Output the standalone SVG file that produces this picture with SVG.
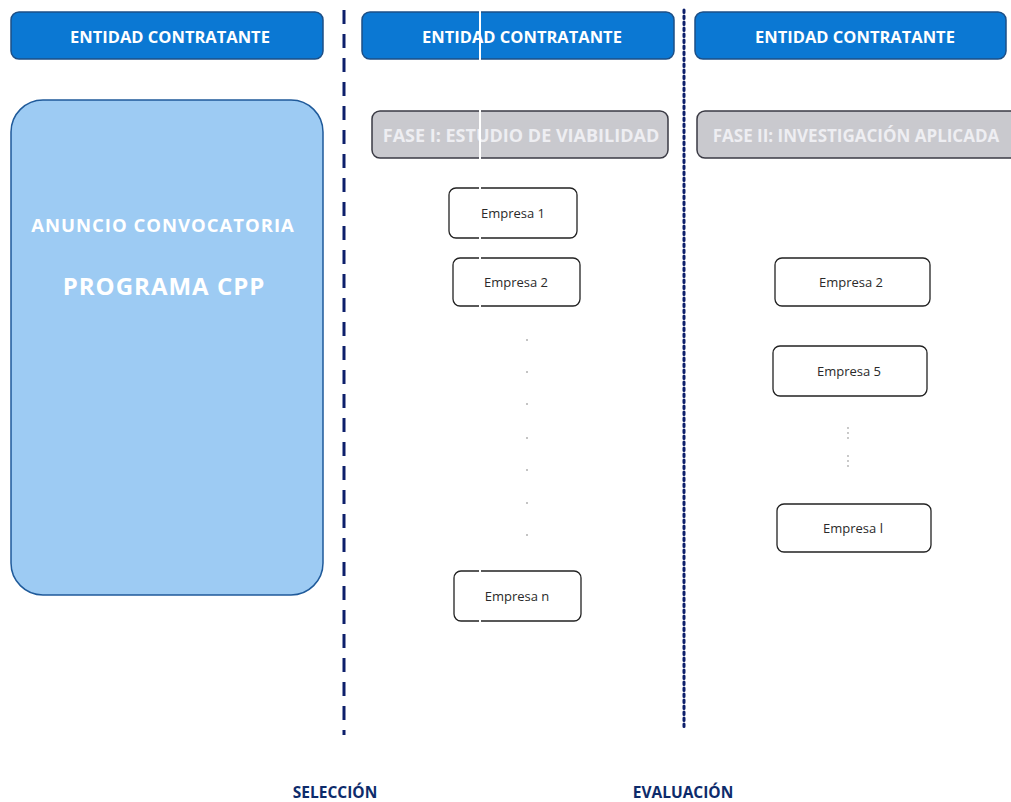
<svg xmlns="http://www.w3.org/2000/svg" width="1011" height="802" viewBox="0 0 1011 802">
<style>
.hdr{fill:#0b78d3;stroke:#1d4f86;stroke-width:1.5}
.hdrt{font-family:"Open Sans","Liberation Sans",sans-serif;font-weight:bold;font-size:16.5px;fill:#ffffff;text-anchor:middle}
.fase{fill:#c9c9ce;stroke:#3a3a44;stroke-width:1.5}
.faset{font-family:"Open Sans","Liberation Sans",sans-serif;font-weight:bold;fill:#eeeef2;text-anchor:middle}
.emp{fill:#ffffff;stroke:#222222;stroke-width:1.3}
.empt{font-family:"Open Sans","Liberation Sans",sans-serif;font-size:13px;fill:#2a2a2a;text-anchor:middle}
.lbl{font-family:"Open Sans","Liberation Sans",sans-serif;font-weight:bold;font-size:15.5px;fill:#0d2b6b;text-anchor:middle}
.an{font-family:"Open Sans","Liberation Sans",sans-serif;font-weight:bold;fill:#ffffff;text-anchor:middle}
.dot{fill:#b0b0b0}
</style>
<rect width="1011" height="802" fill="#ffffff"/>
<g id="connectors">
<line x1="344" y1="10" x2="344" y2="735" stroke="#0d1f6b" stroke-width="3" stroke-dasharray="14,10"/>
<line x1="684" y1="10" x2="684" y2="730" stroke="#0d1f6b" stroke-width="3" stroke-dasharray="2.5,3.5" stroke-linecap="round"/>
</g>
<g id="header1"><rect class="hdr" x="11" y="12" width="312" height="47" rx="8"/><text class="hdrt" x="170" y="43">ENTIDAD CONTRATANTE</text></g>
<g id="header2"><rect class="hdr" x="362" y="12" width="312" height="47" rx="8"/><text class="hdrt" x="522" y="43">ENTIDAD CONTRATANTE</text></g>
<g id="header3"><rect class="hdr" x="695" y="12" width="311" height="47" rx="8"/><text class="hdrt" x="855" y="43">ENTIDAD CONTRATANTE</text></g>
<g id="anuncio">
<rect x="11" y="100" width="312" height="495" rx="32" fill="#9dcbf3" stroke="#1f5a9a" stroke-width="1.5"/>
<text class="an" x="163" y="232" font-size="18.5px" letter-spacing="1">ANUNCIO CONVOCATORIA</text>
<text class="an" x="164" y="295" font-size="24px" letter-spacing="1">PROGRAMA CPP</text>
</g>
<g id="fase1"><rect class="fase" x="372" y="111" width="296" height="47" rx="8"/><text class="faset" x="521" y="142" font-size="18px">FASE I: ESTUDIO DE VIABILIDAD</text></g>
<g id="fase2"><rect class="fase" x="697" y="111" width="330" height="47" rx="8"/><text class="faset" x="856" y="142" font-size="17px">FASE II: INVESTIGACIÓN APLICADA</text></g>
<g id="empresa1"><rect class="emp" x="449" y="188" width="128" height="50" rx="7"/><text class="empt" x="513" y="218">Empresa 1</text></g>
<g id="empresa2a"><rect class="emp" x="453" y="258" width="127" height="48" rx="7"/><text class="empt" x="516" y="287">Empresa 2</text></g>
<g id="empresan"><rect class="emp" x="454" y="571" width="127" height="50" rx="7"/><text class="empt" x="517" y="601">Empresa n</text></g>
<g id="dots1">
<circle class="dot" cx="527" cy="340" r="1"/><circle class="dot" cx="527" cy="372" r="1"/><circle class="dot" cx="527" cy="404" r="1"/><circle class="dot" cx="527" cy="438" r="1"/><circle class="dot" cx="527" cy="470" r="1"/><circle class="dot" cx="527" cy="503" r="1"/><circle class="dot" cx="527" cy="535" r="1"/>
</g>
<g id="empresa2b"><rect class="emp" x="775" y="258" width="155" height="48" rx="7"/><text class="empt" x="851" y="287">Empresa 2</text></g>
<g id="empresa5"><rect class="emp" x="773" y="346" width="154" height="50" rx="7"/><text class="empt" x="849" y="376">Empresa 5</text></g>
<g id="empresal"><rect class="emp" x="777" y="504" width="154" height="48" rx="7"/><text class="empt" x="853" y="533">Empresa l</text></g>
<g id="dots2">
<circle class="dot" cx="848" cy="428" r="0.9"/><circle class="dot" cx="848" cy="433" r="0.9"/><circle class="dot" cx="848" cy="438" r="0.9"/>
<circle class="dot" cx="848" cy="456" r="0.9"/><circle class="dot" cx="848" cy="461" r="0.9"/><circle class="dot" cx="848" cy="466" r="0.9"/>
</g>
<line x1="480" y1="0" x2="480" y2="802" stroke="#ffffff" stroke-width="2"/>
<g id="seleccion"><text class="lbl" x="335" y="798">SELECCIÓN</text></g>
<g id="evaluacion"><text class="lbl" x="683" y="798">EVALUACIÓN</text></g>
</svg>
